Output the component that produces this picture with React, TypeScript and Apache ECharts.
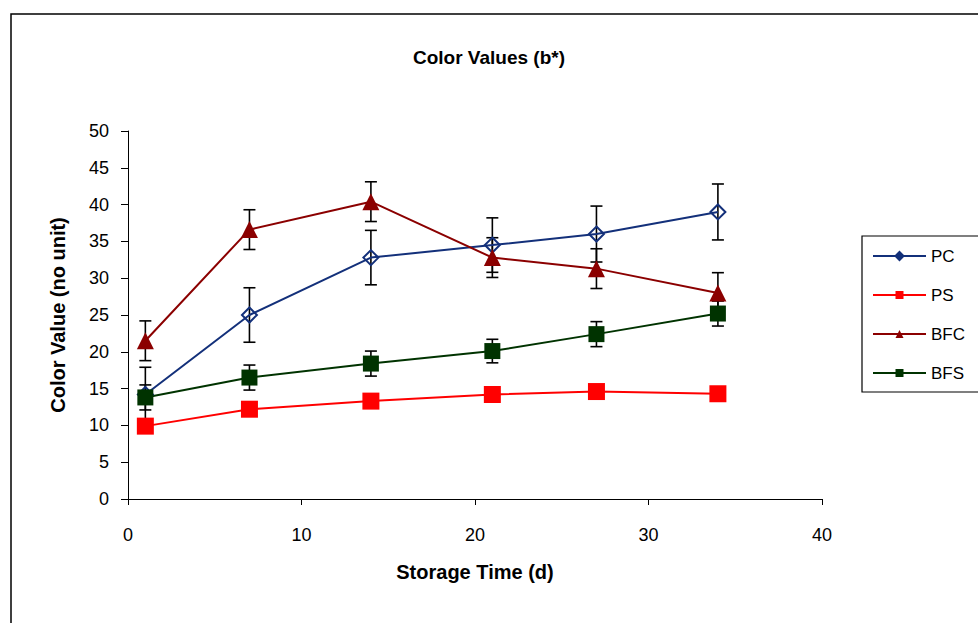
import React, { useEffect, useRef } from "react";
import * as echarts from "echarts";

const days = [1, 7, 14, 21, 27, 34];
const seriesNames = ["PC", "PS", "BFC", "BFS"];
const pcValues = [14.2, 25.0, 32.8, 34.5, 36.0, 39.0];
const pcErrors = [3.7, 3.7, 3.7, 3.7, 3.8, 3.8];
const psValues = [9.9, 12.2, 13.3, 14.2, 14.6, 14.3];
const bfcValues = [21.5, 36.6, 40.4, 32.8, 31.3, 28.0];
const bfcErrors = [2.7, 2.7, 2.7, 2.7, 2.7, 2.75];
const bfsValues = [13.8, 16.5, 18.4, 20.1, 22.4, 25.2];
const bfsErrors = [1.7, 1.7, 1.7, 1.6, 1.7, 1.7];

const FONT = "'Liberation Sans', Arial, sans-serif";

export default function App() {
  const ref = useRef<HTMLDivElement>(null);
  useEffect(() => {
    document.body.style.margin = "0";
    if (!ref.current) return;
    const chart = echarts.init(ref.current, null, { renderer: "svg" });
    const pts = (vals: number[]) => days.map((d, i) => [d, vals[i]]);
    const errPts = (vals: number[], errs: number[]) => days.map((d, i) => [d, vals[i], errs[i]]);
    const errorSeries = (name: string, vals: number[], errs: number[]) => ({
      type: "custom",
      name: name + "-err",
      z: 1,
      silent: true,
      encode: { x: 0, y: 1 },
      data: errPts(vals, errs),
      renderItem: (params: any, api: any) => {
        const x = api.value(0);
        const y = api.value(1);
        const e = api.value(2);
        const top = api.coord([x, y + e]);
        const bot = api.coord([x, y - e]);
        const w = 6;
        const style = { stroke: "#000", lineWidth: 1.6 };
        return {
          type: "group",
          children: [
            { type: "line", shape: { x1: top[0], y1: top[1], x2: bot[0], y2: bot[1] }, style },
            { type: "line", shape: { x1: top[0] - w, y1: top[1], x2: top[0] + w, y2: top[1] }, style },
            { type: "line", shape: { x1: bot[0] - w, y1: bot[1], x2: bot[0] + w, y2: bot[1] }, style },
          ],
        };
      },
    });
    const colors = ["#13307A", "#FF0000", "#8B0000", "#003300"];
    chart.setOption({
      animation: false,
      backgroundColor: "#fff",
      title: {
        text: "Color Values (b*)",
        left: "center",
        top: 43,
        textStyle: { fontFamily: FONT, fontSize: 19, fontWeight: "bold", color: "#000" },
      },
      graphic: [
        {
          type: "rect",
          shape: { x: 11, y: 14, width: 990, height: 640 },
          style: { fill: "none", stroke: "#000", lineWidth: 1.5 },
          silent: true,
        },
        {
          type: "rect",
          shape: { x: 862, y: 236, width: 130, height: 156 },
          style: { fill: "#fff", stroke: "#000", lineWidth: 1.2 },
          silent: true,
          z: 0,
        },
      ],
      legend: {
        orient: "vertical",
        left: 862,
        top: 236,
        padding: [11, 10, 10, 10],
        itemWidth: 53,
        itemHeight: 10,
        itemGap: 21,
        z: 5,
        textStyle: { fontFamily: FONT, fontSize: 17, lineHeight: 18, color: "#000" },
        data: [
          { name: "PC", itemStyle: { color: colors[0], borderColor: colors[0] } },
          { name: "PS" },
          { name: "BFC" },
          { name: "BFS" },
        ],
      },
      grid: { left: 128, top: 131, right: 156, bottom: 124 },
      xAxis: {
        type: "value",
        min: 0,
        max: 40,
        interval: 10,
        name: "Storage Time (d)",
        nameLocation: "middle",
        nameGap: 63,
        nameTextStyle: { fontFamily: FONT, fontSize: 20, fontWeight: "bold", color: "#000" },
        axisLine: { show: true, lineStyle: { color: "#000", width: 1 } },
        axisTick: { show: true, length: 6, lineStyle: { color: "#000" } },
        axisLabel: { fontFamily: FONT, fontSize: 18, color: "#000", margin: 27 },
        splitLine: { show: false },
      },
      yAxis: {
        type: "value",
        min: 0,
        max: 50,
        interval: 5,
        name: "Color Value (no unit)",
        nameLocation: "middle",
        nameGap: 60,
        nameTextStyle: { fontFamily: FONT, fontSize: 20, fontWeight: "bold", color: "#000" },
        axisLine: { show: true, lineStyle: { color: "#000", width: 1 } },
        axisTick: { show: true, length: 7, lineStyle: { color: "#000" } },
        axisLabel: { fontFamily: FONT, fontSize: 18, color: "#000", margin: 19 },
        splitLine: { show: false },
      },
      series: [
        errorSeries("PC", pcValues, pcErrors),
        errorSeries("BFC", bfcValues, bfcErrors),
        errorSeries("BFS", bfsValues, bfsErrors),
        {
          type: "line",
          name: seriesNames[0],
          data: pts(pcValues),
          z: 3,
          symbol: "diamond",
          symbolSize: 15,
          lineStyle: { color: colors[0], width: 2 },
          itemStyle: { color: "rgba(255,255,255,0)", borderColor: colors[0], borderWidth: 2 },
        },
        {
          type: "line",
          name: seriesNames[1],
          data: pts(psValues),
          z: 3,
          symbol: "rect",
          symbolSize: 17,
          lineStyle: { color: colors[1], width: 2 },
          itemStyle: { color: colors[1] },
        },
        {
          type: "line",
          name: seriesNames[2],
          data: pts(bfcValues),
          z: 3,
          symbol: "triangle",
          symbolSize: 17,
          lineStyle: { color: colors[2], width: 2 },
          itemStyle: { color: colors[2] },
        },
        {
          type: "line",
          name: seriesNames[3],
          data: pts(bfsValues),
          z: 3,
          symbol: "rect",
          symbolSize: 16,
          lineStyle: { color: colors[3], width: 2 },
          itemStyle: { color: colors[3] },
        },
      ],
    });
    return () => chart.dispose();
  }, []);
  return <div ref={ref} style={{ width: 978, height: 623 }} />;
}
